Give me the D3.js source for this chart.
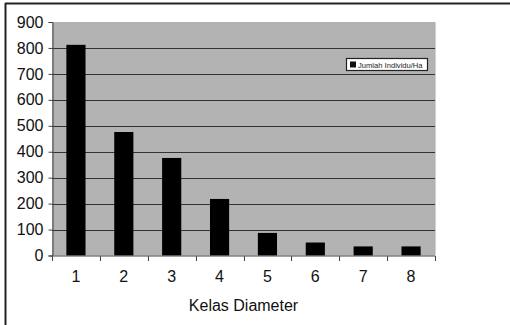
<!DOCTYPE html>
<html>
<head>
<meta charset="utf-8">
<script src="https://cdn.jsdelivr.net/npm/d3@7"></script>
<style>
  html, body { margin: 0; padding: 0; background: #fff; }
  svg { display: block; }
</style>
</head>
<body>
<svg id="chart" width="510" height="325"></svg>
<script>
// Number of individuals per hectare by diameter class
const categories = ["1", "2", "3", "4", "5", "6", "7", "8"];
const values = [812, 476, 376, 218, 87, 50, 35, 35];
const yTicks = [0, 100, 200, 300, 400, 500, 600, 700, 800, 900];
const seriesName = "Jumlah Individu/Ha";
const xTitle = "Kelas Diameter";

const svg = d3.select("#chart");
const font = "Arial, 'Liberation Sans', sans-serif";

// outer frame: top and left edges
svg.append("line").attr("x1", 5).attr("x2", 510).attr("y1", 3.5).attr("y2", 3.5)
  .attr("stroke", "#222").attr("stroke-width", 2);
svg.append("line").attr("x1", 5.5).attr("x2", 5.5).attr("y1", 3).attr("y2", 325)
  .attr("stroke", "#222").attr("stroke-width", 2);

const plot = { left: 52, right: 435, top: 22, bottom: 255.5 };

const x = d3.scaleBand().domain(categories)
  .range([plot.left, plot.right]).paddingInner(0.6).paddingOuter(0.3);
const xOuter = d3.scaleBand().domain(categories).range([plot.left, plot.right]);
const y = d3.scaleLinear().domain([0, 900]).range([plot.bottom, plot.top]);

// plot background
svg.append("rect")
  .attr("x", plot.left).attr("y", plot.top)
  .attr("width", plot.right - plot.left).attr("height", plot.bottom - plot.top)
  .attr("fill", "#b3b3b3");
svg.append("line").attr("x1", plot.right + 0.5).attr("x2", plot.right + 0.5)
  .attr("y1", plot.top).attr("y2", plot.bottom).attr("stroke", "#d0d0d0");

// gridlines
svg.append("g").selectAll("line").data(yTicks.filter(d => d > 0 && d < 900)).join("line")
  .attr("x1", plot.left).attr("x2", plot.right)
  .attr("y1", d => Math.round(y(d)) + 0.5).attr("y2", d => Math.round(y(d)) + 0.5)
  .attr("stroke", "#333").attr("stroke-width", 1);

// bars
svg.append("g").selectAll("rect").data(values).join("rect")
  .attr("x", (d, i) => x(categories[i]))
  .attr("y", d => y(d))
  .attr("width", x.bandwidth())
  .attr("height", d => y(0) - y(d))
  .attr("fill", "#000");

// y axis
const yAxis = d3.axisLeft(y).tickValues(yTicks).tickSize(4).tickPadding(5);
const gy = svg.append("g").attr("transform", `translate(${plot.left + 0.5},0)`).call(yAxis);
gy.select(".domain").attr("stroke", "#444");
gy.selectAll(".tick line").attr("stroke", "#444");
gy.selectAll("text").attr("font-family", font).attr("font-size", 16).attr("fill", "#111");

// x axis: ticks at category boundaries
const gx = svg.append("g").attr("transform", `translate(0,${plot.bottom + 0.5})`);
gx.append("line").attr("x1", plot.left).attr("x2", plot.right)
  .attr("stroke", "#444");
const bounds = categories.map(c => xOuter(c)).concat([plot.right]);
gx.selectAll("line.tk").data(bounds).join("line").attr("class", "tk")
  .attr("x1", d => Math.round(d) + 0.5).attr("x2", d => Math.round(d) + 0.5)
  .attr("y1", 0).attr("y2", 5).attr("stroke", "#444");
gx.selectAll("text").data(categories).join("text")
  .attr("x", d => xOuter(d) + xOuter.bandwidth() / 2)
  .attr("y", 26)
  .attr("text-anchor", "middle")
  .attr("font-family", font).attr("font-size", 16).attr("fill", "#111")
  .text(d => d);

// axis title
svg.append("text")
  .attr("x", (plot.left + plot.right) / 2).attr("y", 311)
  .attr("text-anchor", "middle")
  .attr("font-family", font).attr("font-size", 16).attr("fill", "#111")
  .text(xTitle);

// legend
const lg = svg.append("g").attr("transform", "translate(346,58)");
lg.append("rect").attr("x", 0.5).attr("y", 0.5).attr("width", 81).attr("height", 12)
  .attr("fill", "#fff").attr("stroke", "#222").attr("stroke-width", 1.2);
lg.append("rect").attr("x", 4).attr("y", 3.5).attr("width", 6).attr("height", 6).attr("fill", "#111");
lg.append("text").attr("x", 12).attr("y", 9.5)
  .attr("font-family", font).attr("font-size", 7.6).attr("fill", "#222")
  .text(seriesName);
</script>
</body>
</html>
